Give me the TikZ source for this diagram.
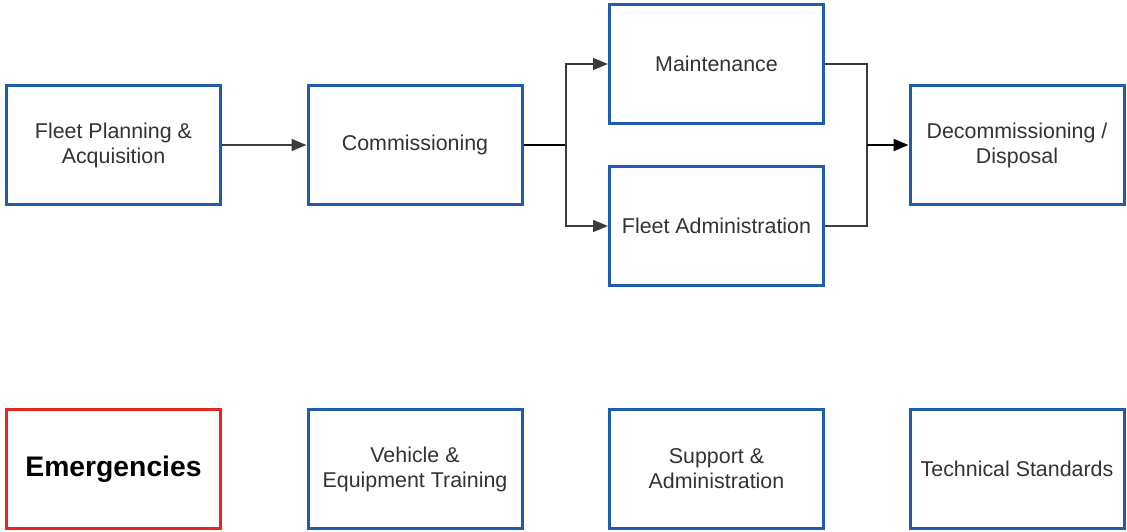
\documentclass[tikz,border=0pt]{standalone}
\usepackage{fontspec}
\setmainfont{Liberation Sans}
\usetikzlibrary{arrows.meta}
\definecolor{boxblue}{HTML}{1F5CAA}
\definecolor{boxred}{HTML}{E4261E}
\definecolor{txt}{HTML}{333333}
\definecolor{wire}{HTML}{3C3C3C}
\tikzset{
  stage/.style={draw=boxblue, line width=3pt, fill=white, minimum width=214pt, minimum height=119pt,
    inner sep=0pt, align=center, text=txt, font=\fontsize{21.4}{25}\selectfont},
  alert/.style={stage, draw=boxred, text=black, font=\fontsize{28.3}{30}\selectfont\bfseries},
  tip/.style={-{Triangle[length=15pt,width=12pt]}},
  flow/.style={draw=wire, line width=1.4pt, tip},
  thickflow/.style={draw=black, line width=2.2pt},
}
\begin{document}
\begin{tikzpicture}[x=1pt,y=-1pt]
\useasboundingbox (0,0) rectangle (1127,532);
\node[stage] (fp) at (113.5,145) {Fleet Planning \&\\Acquisition};
\node[stage] (cm) at (415,145) {Commissioning};
\node[stage] (mt) at (716.5,64) {Maintenance};
\node[stage] (fa) at (716.5,226) {Fleet Administration};
\node[stage] (dc) at (1017,145) {Decommissioning /\\Disposal};
\node[alert] (em) at (113.5,469) {Emergencies};
\node[stage] (vt) at (415,469) {Vehicle \&\\Equipment Training};
\node[stage] (sa) at (716.5,469) {Support \&\\Administration};
\node[stage] (ts) at (1017,469) {Technical Standards};
\coordinate (split) at (566,145);
\coordinate (merge) at (867,145);
\draw[flow] (fp.east) -- (cm.west);
\draw[thickflow] (cm.east) -- (split);
\draw[flow] (split) |- (mt.west);
\draw[flow] (split) |- (fa.west);
\draw[draw=wire, line width=1.4pt] (mt.east) -| (merge) |- (fa.east);
\draw[thickflow, tip] (merge) -- (dc.west);
\end{tikzpicture}
\end{document}
